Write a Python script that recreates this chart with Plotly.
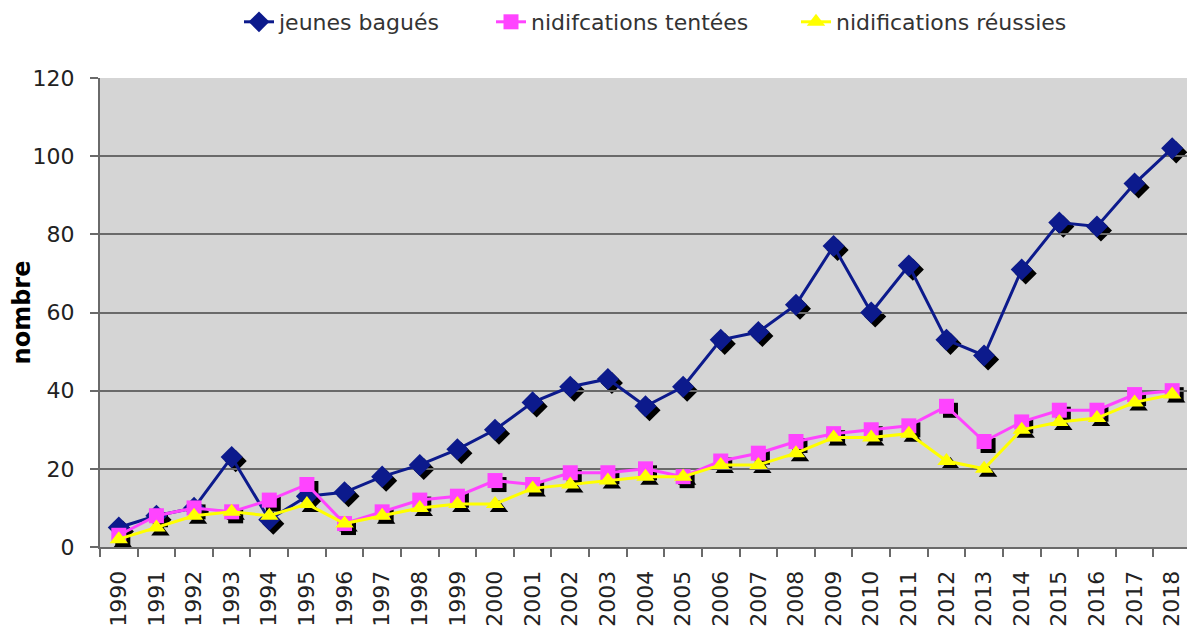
import plotly.graph_objects as go

years = [str(y) for y in range(1990, 2019)]
jeunes_bagues = [5, 8, 10, 23, 7, 13, 14, 18, 21, 25, 30, 37, 41, 43, 36, 41, 53, 55, 62, 77, 60, 72, 53, 49, 71, 83, 82, 93, 102]
nidif_tentees = [3, 8, 10, 9, 12, 16, 6, 9, 12, 13, 17, 16, 19, 19, 20, 18, 22, 24, 27, 29, 30, 31, 36, 27, 32, 35, 35, 39, 40]
nidif_reussies = [2, 5, 8, 9, 8, 11, 6, 8, 10, 11, 11, 15, 16, 17, 18, 18, 21, 21, 24, 28, 28, 29, 22, 20, 30, 32, 33, 37, 39]

series_names = ["jeunes bagués", "nidifcations tentées", "nidifications réussies"]
series_values = [jeunes_bagues, nidif_tentees, nidif_reussies]
colors = ["#0c1a8c", "#ff44ff", "#ffff00"]
symbols = ["diamond", "square", "triangle-up"]
sizes = [17, 15, 16]
legend_ids = ["legend", "legend2", "legend3"]

# the page body has an 8px margin, so the figure is sized/positioned for it
W, H = 1187, 623
legend_x_px = [231, 483, 788]
ML, MR, MT, MB = 92, 0, 70, 80
pw = W - ML - MR
ph = H - MT - MB
off = 4
dx = off / pw
dy = off / ph

fig = go.Figure()

# shadows (drawn on the lower subplot, shifted by a few pixels)
for vals, sym, sz in zip(series_values, symbols, sizes):
    fig.add_trace(go.Scatter(
        x=years, y=vals, mode="markers", xaxis="x", yaxis="y",
        marker=dict(symbol=sym, size=sz, color="black", line=dict(width=0)),
        showlegend=False, hoverinfo="skip",
    ))

# main series
for name, vals, col, sym, sz, lg in zip(series_names, series_values, colors, symbols, sizes, legend_ids):
    fig.add_trace(go.Scatter(
        x=years, y=vals, name=name, mode="lines+markers", xaxis="x2", yaxis="y2",
        line=dict(color=col, width=3),
        marker=dict(symbol=sym, size=sz, color=col, line=dict(width=0)),
        legend=lg,
    ))

fontfam = "DejaVu Sans, Verdana, sans-serif"

legend_common = dict(orientation="h", xref="container", yref="container", xanchor="left",
                     y=1 - 14 / H, yanchor="middle",
                     font=dict(size=22, color="#333333"), bgcolor="rgba(0,0,0,0)")

layout_legends = {}
for lg, xp in zip(legend_ids, legend_x_px):
    layout_legends[lg] = dict(legend_common, x=xp / W)

fig.update_layout(
    width=W, height=H,
    margin=dict(l=ML, r=MR, t=MT, b=MB, pad=0),
    paper_bgcolor="white",
    plot_bgcolor="rgba(0,0,0,0)",
    font=dict(family=fontfam, size=22, color="#222222"),
    shapes=[dict(type="rect", xref="paper", yref="paper", x0=0, x1=1 - dx, y0=dy, y1=1,
                 fillcolor="#d5d5d5", line=dict(width=0), layer="below")],
    xaxis=dict(domain=[dx, 1], anchor="y", type="category", categoryarray=years,
               range=[-0.5, len(years) - 0.5], visible=False, automargin=False),
    yaxis=dict(domain=[0, 1 - dy], anchor="x", range=[0, 120], visible=False, automargin=False),
    xaxis2=dict(domain=[0, 1 - dx], anchor="y2", type="category", categoryarray=years,
                range=[-0.5, len(years) - 0.5], tickangle=-90, tickson="boundaries",
                ticks="outside", ticklen=8, tickwidth=2, tickcolor="#6a6a6a",
                showline=True, linecolor="#6a6a6a", linewidth=2, showgrid=False,
                ticklabelstandoff=13, automargin=False,
                tickfont=dict(size=22, color="#222222")),
    yaxis2=dict(domain=[dy, 1], anchor="x2", range=[0, 120], dtick=20,
                ticks="outside", ticklen=8, tickwidth=2, tickcolor="#6a6a6a",
                showline=True, linecolor="#6a6a6a", linewidth=2,
                showgrid=True, gridcolor="#6a6a6a", gridwidth=2, zeroline=False,
                ticklabelstandoff=11, automargin=False,
                tickfont=dict(size=22, color="#222222"),
                title=dict(text="<b>nombre</b>", font=dict(size=24, color="#000000"), standoff=16)),
    **layout_legends,
)

fig.write_html("out.html")
